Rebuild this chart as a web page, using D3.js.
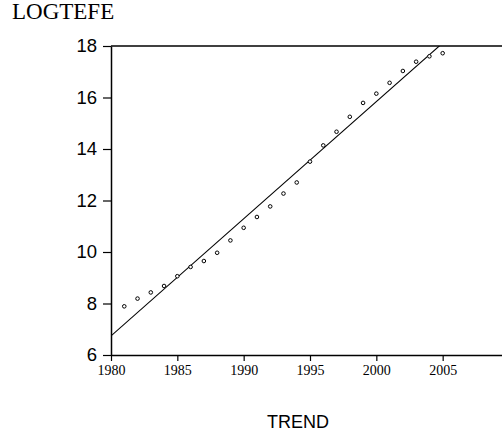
<!DOCTYPE html>
<html>
<head>
<meta charset="utf-8">
<script src="https://cdn.jsdelivr.net/npm/d3@7"></script>
<style>
  html, body { margin: 0; padding: 0; background: #fff; }
  svg { display: block; }
</style>
</head>
<body>
<svg id="chart" width="502" height="439"></svg>
<script>
// Observed LOGTEFE values by year
const years = [1981, 1982, 1983, 1984, 1985, 1986, 1987, 1988, 1989, 1990,
               1991, 1992, 1993, 1994, 1995, 1996, 1997, 1998, 1999, 2000,
               2001, 2002, 2003, 2004, 2005];
const logtefe = [7.89, 8.19, 8.43, 8.68, 9.06, 9.42, 9.65, 9.97, 10.45, 10.94,
                 11.36, 11.77, 12.27, 12.70, 13.51, 14.14, 14.67, 15.25, 15.79, 16.15,
                 16.57, 17.03, 17.39, 17.60, 17.72];

// Fitted linear trend: value at the start year and yearly slope
const trendYears = [1980, 2010];
const trendStartValue = 6.74;
const trendSlope = 0.455;

// Axis ticks
const xTicks = [1980, 1985, 1990, 1995, 2000, 2005];
const yTicks = [6, 8, 10, 12, 14, 16, 18];

const svg = d3.select("#chart");
const plotLeft = 111, plotTop = 46, plotBottom = 355, plotRight = 509;

const x = d3.scaleLinear().domain([1980, 2010]).range([plotLeft, plotRight]);
const y = d3.scaleLinear().domain([6, 18]).range([plotBottom, plotTop]);

// Clip region for the fitted line
svg.append("clipPath").attr("id", "plot-clip")
  .append("rect")
  .attr("x", plotLeft).attr("y", plotTop)
  .attr("width", plotRight - plotLeft).attr("height", plotBottom - plotTop);

// Top frame line
svg.append("line")
  .attr("x1", plotLeft).attr("x2", plotRight)
  .attr("y1", plotTop).attr("y2", plotTop)
  .attr("stroke", "#000").attr("stroke-width", 1.5);

// Y axis
const yAxis = svg.append("g")
  .attr("transform", `translate(${plotLeft},0)`)
  .call(d3.axisLeft(y).tickValues(yTicks).tickFormat(d3.format("d")).tickSize(8).tickSizeOuter(0).tickPadding(6));
yAxis.select(".domain").attr("stroke-width", 1.5);
yAxis.selectAll(".tick line").attr("stroke-width", 1.2);
yAxis.selectAll("text")
  .attr("font-family", "'Liberation Sans', Arial, sans-serif")
  .attr("font-size", 18.5)
  .attr("fill", "#000");

// X axis
const xAxis = svg.append("g")
  .attr("transform", `translate(0,${plotBottom})`)
  .call(d3.axisBottom(x).tickValues(xTicks).tickFormat(d3.format("d")).tickSize(6).tickSizeOuter(0).tickPadding(4));
xAxis.select(".domain").attr("stroke-width", 1.5);
xAxis.selectAll(".tick line").attr("stroke-width", 1.2);
xAxis.selectAll("text")
  .attr("font-family", "'Liberation Serif', 'Times New Roman', serif")
  .attr("font-size", 14)
  .attr("fill", "#000");

// Fitted trend line
svg.append("g").attr("clip-path", "url(#plot-clip)")
  .append("path")
  .datum(trendYears)
  .attr("fill", "none")
  .attr("stroke", "#000")
  .attr("stroke-width", 1.1)
  .attr("d", d3.line()
    .x(d => x(d))
    .y(d => y(trendStartValue + trendSlope * (d - trendYears[0]))));

// Observed points as small open circles
svg.append("g")
  .selectAll("circle")
  .data(years.map((yr, i) => ({ yr, v: logtefe[i] })))
  .join("circle")
  .attr("cx", d => x(d.yr))
  .attr("cy", d => y(d.v))
  .attr("r", 1.8)
  .attr("fill", "#fff")
  .attr("stroke", "#000")
  .attr("stroke-width", 1);

// Axis titles
svg.append("text")
  .attr("x", 12).attr("y", 19)
  .attr("font-family", "'Liberation Serif', 'Times New Roman', serif")
  .attr("font-size", 23)
  .attr("fill", "#000")
  .text("LOGTEFE");

svg.append("text")
  .attr("x", 298).attr("y", 428)
  .attr("text-anchor", "middle")
  .attr("font-family", "'Liberation Sans', Arial, sans-serif")
  .attr("font-size", 18)
  .attr("fill", "#000")
  .text("TREND");
</script>
</body>
</html>
